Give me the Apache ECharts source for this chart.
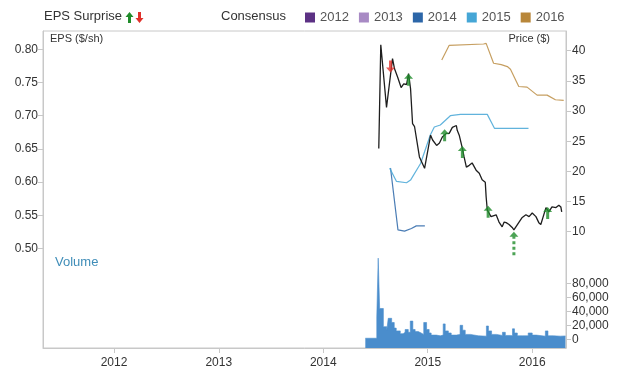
<!DOCTYPE html>
<html><head><meta charset="utf-8">
<script src="https://cdn.jsdelivr.net/npm/echarts@6/dist/echarts.min.js"></script>
<style>html,body{margin:0;padding:0;background:#fff}#c{width:620px;height:375px}</style>
</head><body><div id="c"></div>
<script>
// ---- data ----
const yearTicks = ['2012-01-01','2013-01-01','2014-01-01','2015-01-01','2016-01-01'];
const epsTicks = [0.50,0.55,0.60,0.65,0.70,0.75,0.80];
const priceTicks = [10,15,20,25,30,35,40];
const volumeTicks = [0,20000,40000,60000,80000];
const legendYears = ['2012','2013','2014','2015','2016'];

const priceDates = ['2014-07-14','2014-07-21','2014-08-10','2014-08-31','2014-09-07','2014-09-18','2014-09-23','2014-09-30','2014-10-09','2014-10-19','2014-10-26','2014-11-02','2014-11-09','2014-11-16','2014-12-03','2014-12-21',
 '2015-01-11','2015-01-18','2015-02-01','2015-02-11','2015-02-21','2015-03-07','2015-03-17','2015-03-28','2015-04-11','2015-04-14','2015-04-21','2015-05-02','2015-05-08','2015-05-16','2015-05-26','2015-06-05','2015-06-19','2015-06-30','2015-07-10','2015-07-21','2015-07-24','2015-07-28','2015-08-10','2015-08-28','2015-09-07','2015-09-18','2015-09-25','2015-10-02','2015-10-12','2015-10-23','2015-10-29','2015-11-16','2015-11-26','2015-12-10','2015-12-21',
 '2016-01-01','2016-01-14','2016-01-24','2016-01-31','2016-02-18','2016-02-28','2016-03-10','2016-03-24','2016-04-03','2016-04-10','2016-04-13'];
const priceValues = [23.8,41.0,30.6,38.7,37.0,35.6,35.9,33.9,34.5,34.4,36.2,33.7,27.9,27.4,22.4,20.5,
 26.0,25.2,24.3,24.7,25.7,26.3,26.3,27.3,27.6,26.8,26.0,23.8,22.4,20.7,21.0,21.4,20.2,19.7,18.6,18.2,15.8,13.6,12.5,12.8,11.6,10.8,11.6,11.5,11.2,10.7,10.3,11.6,12.3,12.8,12.5,
 13.1,12.5,11.5,11.2,14.0,13.3,14.1,14.0,14.4,14.1,13.3];

const cons2014Dates = ['2014-08-24','2014-09-19','2014-10-12','2014-11-05','2014-11-22','2014-12-22'];
const cons2014Values = [0.621,0.528,0.526,0.530,0.534,0.534];
const cons2015Dates = ['2014-08-21','2014-09-14','2014-10-19','2014-11-02','2014-12-07','2015-01-10','2015-01-24','2015-02-14','2015-03-21','2015-04-25','2015-07-15','2015-07-28','2015-08-22','2015-12-19'];
const cons2015Values = [0.621,0.601,0.599,0.603,0.628,0.671,0.683,0.686,0.700,0.702,0.702,0.702,0.681,0.681];
const cons2016Dates = ['2015-02-19','2015-03-17','2015-07-15','2015-07-24','2015-08-19','2015-09-15','2015-10-06','2015-10-17','2015-11-15','2015-12-14','2016-01-18','2016-02-22','2016-03-22','2016-04-20'];
const cons2016Values = [0.784,0.806,0.808,0.809,0.779,0.777,0.774,0.770,0.744,0.743,0.731,0.731,0.724,0.723];

const volumeDates = ['2014-05-28','2014-07-07','2014-07-12','2014-07-17','2014-07-30','2014-08-11','2014-08-16','2014-08-28','2014-09-06','2014-09-13','2014-09-27','2014-10-07','2014-10-14','2014-10-25','2014-11-01','2014-11-10','2014-11-18','2014-11-29','2014-12-09','2014-12-18','2014-12-28',
 '2015-01-06','2015-01-13','2015-01-31','2015-02-14','2015-02-24','2015-03-03','2015-03-14','2015-03-24','2015-04-11','2015-04-24','2015-05-03','2015-05-12','2015-05-30','2015-06-27','2015-07-25','2015-08-01','2015-08-12','2015-08-29','2015-09-19','2015-09-29','2015-10-17','2015-10-24','2015-10-31','2015-11-10','2015-11-28','2015-12-18',
 '2016-01-01','2016-01-15','2016-02-16','2016-02-25','2016-03-15','2016-04-08','2016-04-26'];
const volumeValues = [1500,32000,116000,44000,18000,13000,30000,24000,16000,12000,8000,10000,14000,10000,26000,14000,11000,9000,7000,24000,14000,
 9000,6000,5000,6000,22000,12000,9000,6000,7000,20000,13000,7000,5000,4500,19000,12000,7000,5500,10000,5500,5000,15000,9000,5000,5000,9000,
 6000,4500,12000,5000,4500,4800,4800];

const beatDates = ['2014-10-26','2015-03-01','2015-05-02','2015-07-31','2016-02-24'];
const beatPrices = [36.2,27.0,24.2,14.3,14.1];
const missDates = ['2014-08-24'];
const missPrices = [36.4];
const projDates = ['2015-10-29'];
const projPrices = [10.0];

// ---- chart ----
const ts = s => { const p = s.split('-').map(Number); return new Date(p[0], p[1]-1, p[2]).getTime(); };
const zip = (d, v) => d.map((x, i) => [ts(x), v[i]]);
const legendColors = {'2012':'#5c3184','2013':'#a88ac4','2014':'#2c66a8','2015':'#45a6d6','2016':'#b8873a'};
const GREEN = '#1f8c2a', RED = '#e0312b';
const upArrow = 'path://M4.5,0 L9,5 L6,5 L6,12 L3,12 L3,5 L0,5 Z';
const downArrow = 'path://M3,0 L6,0 L6,7 L9,7 L4.5,12 L0,7 L3,7 Z';
const dashArrow = 'path://M4.5,0 L9,5 L6,5 L6,7 L3,7 L3,5 L0,5 Z M3,9.5 L6,9.5 L6,12.5 L3,12.5 Z M3,15 L6,15 L6,18 L3,18 Z M3,20.5 L6,20.5 L6,23.5 L3,23.5 Z';

const chart = echarts.init(document.getElementById('c'), null, {renderer:'canvas'});
const axisCol = '#c8c8c8';
const labelStyle = {fontSize: 12, color: '#333', fontFamily: 'Liberation Sans, Arial, sans-serif'};

const series = [
  {name:'Volume', type:'line', step:'end', yAxisIndex:2, symbol:'none', silent:true,
   data: zip(volumeDates, volumeValues), lineStyle:{width:0.6, color:'#4a8dcc'},
   areaStyle:{color:'#4a8dcc', opacity:1, origin:'start'}, z:1},
  {name:'2012', type:'line', yAxisIndex:0, data:[], color:legendColors['2012']},
  {name:'2013', type:'line', yAxisIndex:0, data:[], color:legendColors['2013']},
  {name:'2014', type:'line', yAxisIndex:0, symbol:'none', color:legendColors['2014'],
   data: zip(cons2014Dates, cons2014Values), lineStyle:{width:1.2, opacity:0.85}, z:2},
  {name:'2015', type:'line', yAxisIndex:0, symbol:'none', color:legendColors['2015'],
   data: zip(cons2015Dates, cons2015Values), lineStyle:{width:1.2, opacity:0.85}, z:2},
  {name:'2016', type:'line', yAxisIndex:0, symbol:'none', color:legendColors['2016'],
   data: zip(cons2016Dates, cons2016Values), lineStyle:{width:1.2, opacity:0.8}, z:2},
  {name:'Price', type:'line', yAxisIndex:1, symbol:'none', data: zip(priceDates, priceValues),
   lineStyle:{width:1.3, color:'#1e1e1e'}, color:'#1e1e1e', z:3},
  {name:'Beat', type:'scatter', yAxisIndex:1, symbol: upArrow, symbolSize:[9,12], symbolOffset:[0,6],
   itemStyle:{color:GREEN}, data: zip(beatDates, beatPrices), z:4},
  {name:'Miss', type:'scatter', yAxisIndex:1, symbol: downArrow, symbolSize:[9,12], symbolOffset:[0,-6],
   itemStyle:{color:RED}, data: zip(missDates, missPrices), z:4},
  {name:'Projected', type:'scatter', yAxisIndex:1, symbol: dashArrow, symbolSize:[9,23.5], symbolOffset:[0,11.75],
   itemStyle:{color:GREEN}, data: zip(projDates, projPrices), z:4}
];

chart.setOption({
  animation:false,
  backgroundColor:'#fff',
  textStyle:{fontFamily:'Liberation Sans, Arial, sans-serif'},
  grid:{left:43, right:54, top:31, bottom:27, show:true, borderColor:axisCol, borderWidth:1, backgroundColor:'transparent'},
  legend:{data:legendYears, left:300, top:6, icon:'rect', itemWidth:10, itemHeight:10, itemGap:10,
    textStyle:{fontSize:13, color:'#555'}, selectedMode:false},
  xAxis:{type:'value', min:ts('2011-04-28'), max:ts('2016-04-28'),
    axisLine:{show:true, onZero:false, lineStyle:{color:axisCol}},
    axisTick:{show:true, length:5, lineStyle:{color:axisCol}, customValues: yearTicks.map(ts)},
    axisLabel:{...labelStyle, margin:9, customValues: yearTicks.map(ts), formatter: v => String(new Date(v).getFullYear())},
    splitLine:{show:false}},
  yAxis:[
    {type:'value', position:'left', min:0.35, max:0.8276,
     axisLine:{show:true, onZero:false, lineStyle:{color:axisCol}},
     axisTick:{show:true, length:5, lineStyle:{color:axisCol}, customValues: epsTicks},
     axisLabel:{...labelStyle, margin:5, customValues: epsTicks, formatter: v => v.toFixed(2)},
     splitLine:{show:false}},
    {type:'value', position:'right', min:-9.28, max:43.27,
     axisLine:{show:true, onZero:false, lineStyle:{color:axisCol}},
     axisTick:{show:true, length:5, lineStyle:{color:axisCol}, customValues: priceTicks},
     axisLabel:{...labelStyle, margin:6, customValues: priceTicks},
     splitLine:{show:false}},
    {type:'value', position:'right', min:-12430, max:440430,
     axisLine:{show:false, onZero:false},
     axisTick:{show:true, length:5, lineStyle:{color:axisCol}, customValues: volumeTicks},
     axisLabel:{...labelStyle, margin:6, customValues: volumeTicks, formatter: v => v.toLocaleString('en-US')},
     splitLine:{show:false}}
  ],
  graphic:[
    {type:'text', left:44, top:10, style:{text:'EPS Surprise', fontSize:13, fill:'#333', fontFamily:'Liberation Sans, Arial, sans-serif'}},
    {type:'polygon', shape:{points:[[129.5,12],[133.5,17],[131,17],[131,23],[128,23],[128,17],[125.5,17]]}, style:{fill:GREEN}},
    {type:'polygon', shape:{points:[[138,12],[141,12],[141,18],[143.5,18],[139.5,23],[135.5,18],[138,18]]}, style:{fill:RED}},
    {type:'text', left:221, top:10, style:{text:'Consensus', fontSize:13, fill:'#333', fontFamily:'Liberation Sans, Arial, sans-serif'}},
    {type:'text', left:50, top:33, style:{text:'EPS ($/sh)', fontSize:11, fill:'#333', fontFamily:'Liberation Sans, Arial, sans-serif'}},
    {type:'text', right:70, top:33, style:{text:'Price ($)', fontSize:11, fill:'#333', fontFamily:'Liberation Sans, Arial, sans-serif'}},
    {type:'text', left:55, top:256, style:{text:'Volume', fontSize:13, fill:'#3f8db8', fontFamily:'Liberation Sans, Arial, sans-serif'}}
  ],
  series: series
});
</script></body></html>
